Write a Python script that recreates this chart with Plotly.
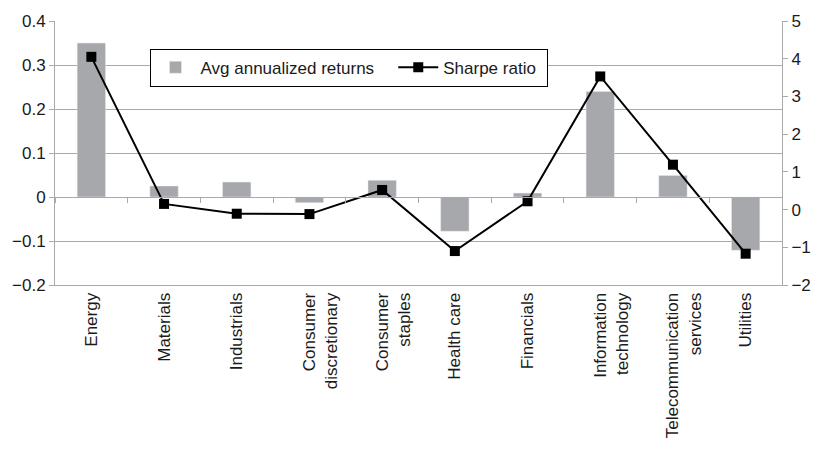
import plotly.graph_objects as go

sectors = ["Energy", "Materials", "Industrials", "Consumer discretionary", "Consumer staples",
           "Health care", "Financials", "Information technology", "Telecommunication services", "Utilities"]
tick_text = ["Energy", "Materials", "Industrials", "\u00a0<br>Consumer<br>discretionary",
             "\u00a0<br>Consumer<br>staples", "Health care", "Financials",
             "\u00a0<br>Information<br>technology", "\u00a0<br>Telecommunication<br>services", "Utilities"]
avg_returns = [0.35, 0.025, 0.034, -0.013, 0.038, -0.078, 0.009, 0.24, 0.049, -0.121]
sharpe = [4.05, 0.15, -0.11, -0.12, 0.52, -1.10, 0.22, 3.53, 1.19, -1.17]

left_ticks = [-0.2, -0.1, 0, 0.1, 0.2, 0.3, 0.4]
left_labels = ["\u22120.2", "\u22120.1", "0", "0.1", "0.2", "0.3", "0.4"]
right_ticks = [-2, -1, 0, 1, 2, 3, 4, 5]
right_labels = ["\u22122", "\u22121", "0", "1", "2", "3", "4", "5"]

grid = "#a9a9a9"
font = dict(family="Liberation Sans, Arial, sans-serif", size=17, color="#1a1a1a")

fig = go.Figure()
fig.add_trace(go.Bar(x=sectors, y=avg_returns, name="Avg annualized returns\u00a0\u00a0\u00a0",
                     marker_color="#a7a8ab", width=0.39))
fig.add_trace(go.Scatter(x=sectors, y=sharpe, name="Sharpe ratio\u00a0", yaxis="y2",
                         mode="lines+markers", line=dict(color="black", width=2),
                         marker=dict(symbol="square", size=10, color="black")))
# empty trace on a second x axis, only there to draw the category ticks along zero
fig.add_trace(go.Scatter(x=sectors, y=[None] * len(sectors), xaxis="x2",
                         showlegend=False, hoverinfo="skip"))

fig.update_layout(
    width=823, height=457,
    margin=dict(l=55, r=35, t=17, b=172),
    paper_bgcolor="white", plot_bgcolor="white",
    font=font,
    showlegend=True,
    legend=dict(orientation="h", x=0.13, y=0.895, xanchor="left", yanchor="top",
                bgcolor="white", bordercolor="black", borderwidth=1,
                font=dict(size=17), itemwidth=40, tracegroupgap=0),
    xaxis=dict(type="category", tickangle=-90, showgrid=False, showline=True,
               linecolor=grid, linewidth=1, ticks="", tickvals=sectors, ticktext=tick_text,
               range=[-0.5, len(sectors) - 0.5]),
    xaxis2=dict(type="category", overlaying="x", anchor="free", position=1 / 3,
                showticklabels=False, ticks="outside", ticklen=5, tickcolor=grid,
                tickson="boundaries", showline=True, linecolor=grid, showgrid=False,
                range=[-0.5, len(sectors) - 0.5]),
    yaxis=dict(range=[-0.2, 0.4], tickvals=left_ticks, ticktext=left_labels,
               showgrid=True, gridcolor=grid, gridwidth=1, zeroline=False,
               showline=True, linecolor=grid, ticks="outside", ticklen=5, tickcolor=grid),
    yaxis2=dict(range=[-2, 5], tickvals=right_ticks, ticktext=right_labels,
                overlaying="y", side="right", showgrid=False, zeroline=False,
                showline=True, linecolor=grid, ticks="outside", ticklen=5, tickcolor=grid),
)

fig.write_html("out.html", config={"displayModeBar": False},
               post_script="document.body.style.margin='0';document.body.style.overflow='hidden';")
